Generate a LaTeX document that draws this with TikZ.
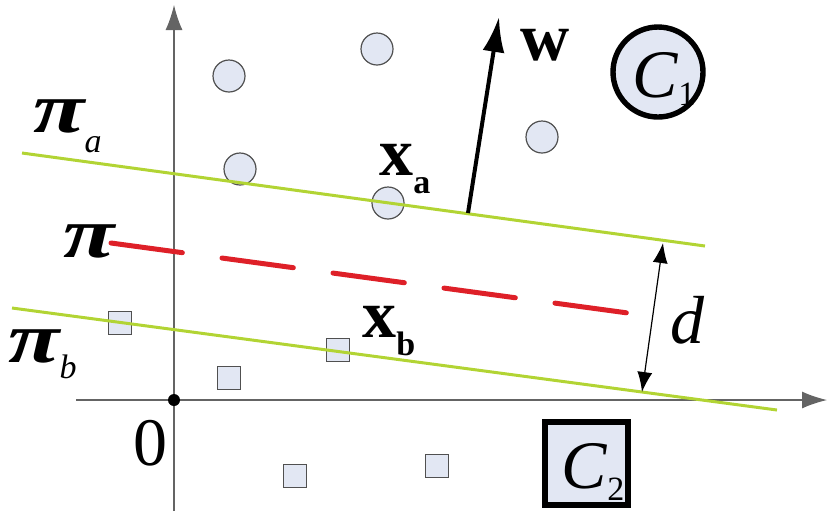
\documentclass[tikz,border=0pt]{standalone}
\usepackage{fontspec}
\setmainfont{Liberation Serif}
\usetikzlibrary{arrows.meta}
\definecolor{ptfill}{RGB}{226,231,243}
\definecolor{ptline}{RGB}{80,80,80}
\definecolor{hgreen}{RGB}{178,212,52}
\definecolor{hred}{RGB}{222,32,40}
\definecolor{axisgray}{RGB}{100,100,100}
\newcommand\bigfs{\fontsize{34}{40}\selectfont}
\newcommand\subfs{\fontsize{17}{20}\selectfont}
\newcommand\wpi{\scalebox{1.38}[1.05]{\textbf{\textit{π}}}}
\begin{document}
\begin{tikzpicture}[x=0.5pt,y=-0.5pt,
  pt/.style={circle,draw=ptline,fill=ptfill,line width=0.6pt,minimum size=16pt,inner sep=0pt},
  sq/.style={rectangle,draw=ptline,fill=ptfill,line width=0.6pt,minimum size=11.5pt,inner sep=0pt},
  axisline/.style={draw=axisgray,line width=0.6pt,-{Latex[length=12.5pt,width=8.5pt]}},
  hplane/.style={draw=hgreen,line width=1.5pt},
  midplane/.style={draw=hred,line width=2.5pt,line cap=round,dash pattern=on 36pt off 20pt},
  lbl/.style={inner sep=0pt,anchor=base west,font=\bigfs},
  clsbox/.style={draw=black,line width=2.7pt,fill=ptfill,inner sep=0pt},
]
\useasboundingbox (0,0) rectangle (828,511);

% axes
\coordinate (xs) at (76,400);
\coordinate (xe) at (827,400);
\coordinate (ys) at (174,511);
\coordinate (ye) at (174,5);
\draw[axisline] (xs) -- (xe);
\draw[axisline] (ys) -- (ye);
\node[circle,fill=black,inner sep=0pt,minimum size=6pt] (o) at (174,400) {};
\node[lbl,anchor=base] (zero) at (150,465) {0};

% class 1 points
\node[pt] (c1) at (229,76) {};
\node[pt] (c2) at (377,49) {};
\node[pt] (c3) at (240,169) {};
\node[pt] (c4) at (388,203) {};
\node[pt] (c5) at (542,137) {};

% class 2 points
\node[sq] (s1) at (120,323) {};
\node[sq] (s2) at (229,378) {};
\node[sq] (s3) at (338,350) {};
\node[sq] (s4) at (295,476) {};
\node[sq] (s5) at (437,466) {};

% hyperplanes
\coordinate (pa1) at (22,153);
\coordinate (pa2) at (705,246);
\coordinate (pm1) at (111,243);
\coordinate (pm2) at (628,313);
\coordinate (pb1) at (12,308);
\coordinate (pb2) at (777,410);
\draw[hplane] (pa1) -- (pa2);
\draw[hplane] (pb1) -- (pb2);
\draw[midplane] (pm1) -- (pm2);

% plane labels
\node[lbl] (lpa) at (33,132) {\wpi\kern-1pt\raisebox{-10pt}{\subfs\textit{a}}};
\node[lbl] (lpm) at (63,257) {\wpi};
\node[lbl] (lpb) at (8,362) {\wpi\kern-1pt\raisebox{-8pt}{\subfs\textit{b}}};

% w vector
\coordinate (wbase) at (468,213);
\coordinate (wtip) at (499,17);
\draw[line width=2pt,-{Latex[length=17.5pt,width=11pt]}] (wbase) -- (wtip);
\node[lbl,anchor=base] (lw) at (545,60) {\textbf{w}};

% support vector labels
\node[lbl] (lxa) at (379,175) {\textbf{x}\raisebox{-9pt}{\subfs\textbf{a}}};
\node[lbl] (lxb) at (362,337) {\textbf{x}\raisebox{-9pt}{\subfs\textbf{b}}};

% margin d
\coordinate (dtop) at (663,243);
\coordinate (dbot) at (642,392);
\draw[line width=0.6pt,{Latex[length=10pt,width=7.5pt]}-{Latex[length=10pt,width=7.5pt]}] (dtop) -- (dbot);
\node[lbl,anchor=base] (ld) at (688,343) {\textit{d}};

% class labels
\node[clsbox,circle,minimum size=45pt] (C1) at (658,72) {};
\node[lbl] (lC1) at (632,97) {\textit{C}\raisebox{-4pt}{\subfs 1}};
\node[clsbox,rectangle,minimum size=41.5pt] (C2) at (586.5,463.5) {};
\node[lbl] (lC2) at (561,488) {\textit{C}\raisebox{-6pt}{\subfs 2}};
\end{tikzpicture}
\end{document}
